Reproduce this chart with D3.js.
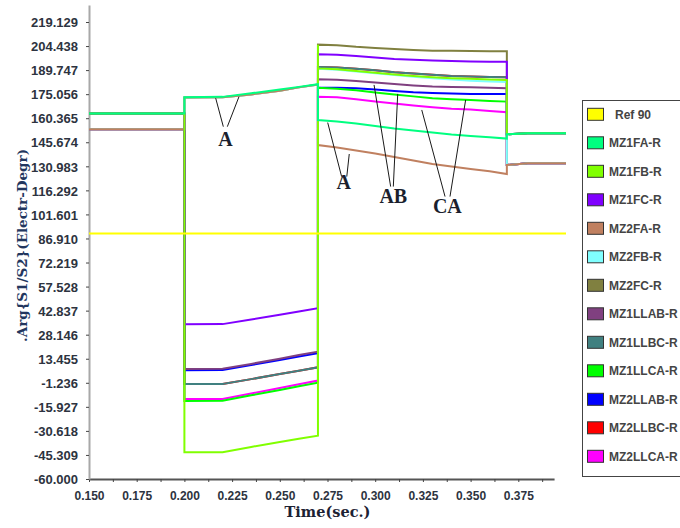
<!DOCTYPE html>
<html>
<head>
<meta charset="utf-8">
<script src="https://cdn.jsdelivr.net/npm/d3@7"></script>
<style>
  body { margin: 0; background: #fff; }
  svg { display: block; }
</style>
</head>
<body>
<svg id="chart" width="680" height="528"></svg>
<script>
// Sample instants (s): pre-fault, first fault, second fault, post-clearing
const times = [0.150, 0.200, 0.200, 0.220, 0.235, 0.250, 0.260, 0.270, 0.270, 0.270,
               0.280, 0.290, 0.300, 0.310, 0.320, 0.330, 0.340, 0.350, 0.360, 0.369,
               0.369, 0.380, 0.400];

// Angle of S1/S2 (electrical degrees) for each relay element
const ref90   = [90, 90, 90, 90, 90, 90, 90, 90, 90, 90, 90, 90, 90, 90, 90, 90, 90, 90, 90, 90, 90, 90, 90];
const mz1faR  = [163.2, 163.2, 173.2, 173.4, 175.6, 177.9, 179.5, 181.1, 159.3, 159.3, 158.4, 157.2, 155.6, 154.1, 152.9, 151.7, 150.4, 149.5, 148.7, 147.9, 150.6, 151.2, 151.2];
const mz1fbR  = [163.2, 163.2, -43.7, -43.6, -40.4, -37.4, -35.4, -33.5, 205.3, 190.8, 190.2, 189.2, 188.2, 187.1, 186.2, 185.4, 184.8, 184.4, 184.0, 183.7, 150.6, 151.2, 151.2];
const mz1fcR  = [163.2, 163.2, 34.5, 34.6, 37.4, 40.3, 42.3, 44.3, 199.4, 199.4, 199.2, 198.3, 197.4, 196.5, 196.0, 195.6, 195.3, 195.0, 194.9, 194.9, 150.6, 151.2, 151.2];
const mz2faR  = [153.6, 153.6, 173.0, 173.2, 174.9, 177.2, 179.2, 180.9, 144.0, 144.0, 142.5, 140.7, 138.8, 136.7, 134.6, 132.4, 130.9, 129.4, 128.0, 126.3, 131.8, 132.9, 132.9];
const mz2fbR  = [153.6, 153.6, 173.0, 173.2, 174.9, 177.2, 179.2, 180.9, 190.5, 190.5, 189.9, 188.9, 187.8, 186.7, 185.7, 184.8, 184.0, 183.3, 182.8, 182.5, 131.8, 132.9, 132.9];
const mz2fcR  = [153.6, 153.6, 173.0, 173.2, 174.9, 177.2, 179.2, 180.9, 205.3, 205.3, 205.0, 204.0, 203.3, 202.6, 202.0, 201.6, 201.5, 201.4, 201.3, 201.2, 131.8, 132.9, 132.9];
const mz1llabR = [163.2, 163.2, 7.2, 7.3, 10.3, 13.5, 15.7, 17.8, 184.1, 184.1, 183.9, 183.1, 182.2, 181.2, 180.4, 179.8, 179.5, 179.2, 178.9, 178.7, 150.6, 151.2, 151.2];
const mz1llbcR = [163.2, 163.2, -2.0, -1.9, 1.0, 4.1, 6.1, 8.2, 191.7, 191.7, 191.4, 190.5, 189.6, 188.5, 187.7, 186.9, 186.2, 185.9, 185.6, 185.4, 150.6, 151.2, 151.2];
const mz1llcaR = [163.2, 163.2, -12.3, -12.2, -8.9, -5.6, -3.4, -1.2, 178.9, 178.9, 178.4, 177.4, 176.1, 174.9, 173.7, 172.6, 172.0, 171.5, 170.9, 170.5, 150.6, 151.2, 151.2];
const mz2llabR = [153.6, 153.6, 6.5, 6.6, 9.6, 12.7, 14.8, 16.8, 178.9, 178.9, 178.9, 178.7, 177.9, 177.0, 176.2, 175.7, 175.4, 175.2, 175.2, 175.2, 131.8, 132.9, 132.9];
const mz2llbcR = [153.6, 153.6, -2.0, -1.9, 1.0, 4.1, 6.1, 8.2, 191.7, 191.7, 191.4, 190.5, 189.6, 188.5, 187.7, 186.9, 186.2, 185.9, 185.6, 185.4, 131.8, 132.9, 132.9];
const mz2llcaR = [153.6, 153.6, -11.2, -11.1, -7.8, -4.4, -2.1, 0.1, 173.4, 173.4, 173.1, 171.9, 170.6, 169.4, 168.2, 167.1, 166.2, 165.7, 164.8, 164.0, 131.8, 132.9, 132.9];

const seriesNames = ["Ref 90", "MZ1FA-R", "MZ1FB-R", "MZ1FC-R", "MZ2FA-R", "MZ2FB-R", "MZ2FC-R",
                     "MZ1LLAB-R", "MZ1LLBC-R", "MZ1LLCA-R", "MZ2LLAB-R", "MZ2LLBC-R", "MZ2LLCA-R"];
const seriesValues = [ref90, mz1faR, mz1fbR, mz1fcR, mz2faR, mz2fbR, mz2fcR,
                      mz1llabR, mz1llbcR, mz1llcaR, mz2llabR, mz2llbcR, mz2llcaR];
const seriesColors = ["#ffff00", "#00ff80", "#80ff00", "#8000ff", "#c08060", "#80ffff", "#808040",
                      "#804080", "#408080", "#00ff00", "#0000ff", "#ff0000", "#ff00ff"];

// Axis ticks
const yTickLabels = ["-60.000", "-45.309", "-30.618", "-15.927", "-1.236", "13.455", "28.146",
                     "42.837", "57.528", "72.219", "86.910", "101.601", "116.292", "130.983",
                     "145.674", "160.365", "175.056", "189.747", "204.438", "219.129"];
const xTickLabels = ["0.150", "0.175", "0.200", "0.225", "0.250", "0.275", "0.300", "0.325", "0.350", "0.375"];

// Phase-group callouts: label, label anchor [t, v], two leader lines [[t1,v1],[t2,v2]]
const calloutText   = ["A", "A", "AB", "CA"];
const calloutAnchor = [[0.2215, 143.6], [0.2835, 117.0], [0.3095, 108.4], [0.3378, 102.7]];
const calloutLeaders = [
  [[[0.2164, 172.6], [0.2204, 155.2]], [[0.2286, 173.5], [0.2225, 155.2]]],
  [[[0.2751, 157.7], [0.2824, 124.7]], [[0.2864, 138.5], [0.2851, 124.7]]],
  [[[0.2994, 180.7], [0.3081, 118.6]], [[0.3118, 175.2], [0.3095, 118.6]]],
  [[[0.3244, 165.4], [0.3366, 112.5]], [[0.3474, 171.5], [0.3392, 112.5]]]
];

const svg = d3.select("#chart");
svg.append("rect").attr("width", 680).attr("height", 528).attr("fill", "#fff");

const yTicks = yTickLabels.map(Number);
const x = d3.scaleLinear().domain([0.15, 0.40]).range([89, 566]);
const y = d3.scaleLinear().domain([yTicks[0], yTicks[yTicks.length - 1]]).range([479, 22]);

// Axes
const xAxisEnd = 0.39375;
const xAxisScale = x.copy().domain([0.15, xAxisEnd]).range([x(0.15), x(xAxisEnd)]);
const xTicks = d3.range(20).map(i => +(0.15 + i * 0.0125).toFixed(4));
const xAxis = d3.axisBottom(xAxisScale)
  .tickValues(xTicks)
  .tickSize(3)
  .tickSizeOuter(0)
  .tickFormat((d, i) => i % 2 === 0 ? xTickLabels[i / 2] : "");
const gx = svg.append("g").attr("transform", `translate(0,${y(yTicks[0])})`).call(xAxis);
gx.select(".domain").attr("stroke", "#555").attr("stroke-width", 2);
gx.selectAll(".tick line").attr("stroke", "#444");
gx.selectAll(".tick text")
  .attr("y", 21).attr("dy", null)
  .attr("fill", "#2d3340")
  .style("font", "bold 12px 'Liberation Sans', Arial, sans-serif");

const yAxisScale = y.copy().domain([yTicks[0], y.invert(5)]).range([y(yTicks[0]), 5]);
const yAxis = d3.axisLeft(yAxisScale)
  .tickValues(yTicks)
  .tickSize(3)
  .tickSizeOuter(0)
  .tickFormat((d, i) => yTickLabels[i]);
const gy = svg.append("g").attr("transform", `translate(${x(0.15)},0)`).call(yAxis);
gy.select(".domain").attr("stroke", "#a8a8a8").attr("stroke-width", 2);
gy.selectAll(".tick line").attr("stroke", "#444");
gy.selectAll(".tick text")
  .attr("x", -11).attr("dy", "0.36em")
  .attr("fill", "#2d3340")
  .style("font", "bold 13px 'Liberation Sans', Arial, sans-serif");

// Series lines (first legend entry ends up on top)
const line = d3.line().x((d, i) => x(times[i])).y(d => y(d));
const plot = svg.append("g").attr("fill", "none").attr("stroke-width", 2);
d3.range(seriesNames.length).reverse().forEach(k => {
  plot.append("path")
    .attr("d", line(seriesValues[k]))
    .attr("stroke", seriesColors[k]);
});

// Callouts
const callouts = svg.append("g");
calloutText.forEach((txt, i) => {
  calloutLeaders[i].forEach(seg => {
    callouts.append("line")
      .attr("x1", x(seg[0][0])).attr("y1", y(seg[0][1]))
      .attr("x2", x(seg[1][0])).attr("y2", y(seg[1][1]))
      .attr("stroke", "#1a1a1a").attr("stroke-width", 1);
  });
  callouts.append("text")
    .attr("x", x(calloutAnchor[i][0])).attr("y", y(calloutAnchor[i][1]))
    .attr("text-anchor", "middle")
    .attr("fill", "#1b1f2e")
    .style("font", "bold 20px 'Liberation Serif', 'Times New Roman', serif")
    .text(txt);
});

// Axis titles
svg.append("text")
  .attr("x", 327.5).attr("y", 517)
  .attr("text-anchor", "middle")
  .attr("fill", "#1c2233")
  .style("font", "bold 14.5px 'DejaVu Serif', serif")
  .text("Time(sec.)");
svg.append("text")
  .attr("transform", "translate(27,245.5) rotate(-90)")
  .attr("text-anchor", "middle")
  .attr("fill", "#22365e")
  .style("font", "bold 13.5px 'DejaVu Serif', serif")
  .text(".Arg{S1/S2}(Electr-Degr)");

// Legend
const legend = svg.append("g");
legend.append("rect")
  .attr("x", 582.5).attr("y", 100.5).attr("width", 120).attr("height", 376)
  .attr("fill", "#fff").attr("stroke", "#444").attr("stroke-width", 1);
seriesNames.forEach((name, i) => {
  const cy = 114.3 + i * 28.5;
  legend.append("rect")
    .attr("x", 587.5).attr("y", cy - 6).attr("width", 16).attr("height", 12)
    .attr("fill", seriesColors[i]).attr("stroke", "#333").attr("stroke-width", 1);
  legend.append("text")
    .attr("x", i === 0 ? 615 : 609).attr("y", cy).attr("dy", "0.36em")
    .attr("fill", "#444")
    .style("font", "bold 12px 'Liberation Sans', Arial, sans-serif")
    .text(name);
});
</script>
</body>
</html>
